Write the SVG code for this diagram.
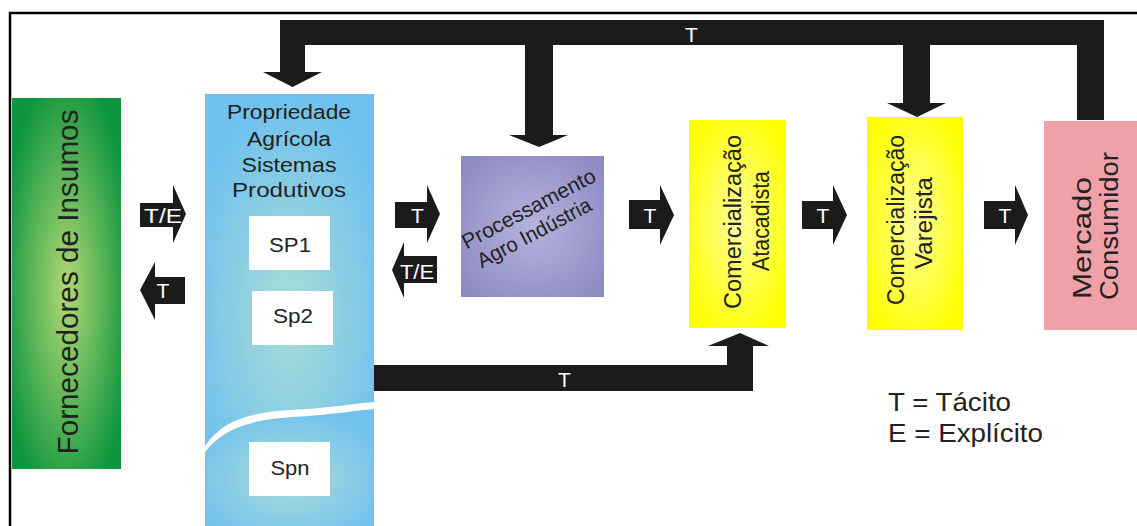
<svg xmlns="http://www.w3.org/2000/svg" width="1137" height="526" viewBox="0 0 1137 526">
<style>
.t{font-family:"Liberation Sans",Arial,sans-serif;fill:#222}
.w{font-family:"Liberation Sans",Arial,sans-serif;fill:#fff;font-size:21px;text-anchor:middle}
.blk{fill:#1b1b1b}
.sub{fill:#fff}
</style>
<defs>
<radialGradient id="gGreen" cx="0.5" cy="0.52" r="0.6">
<stop offset="0" stop-color="#b2d874"/><stop offset="1" stop-color="#0e963f"/>
</radialGradient>
<radialGradient id="gBlue" cx="0.5" cy="0.62" r="0.6">
<stop offset="0" stop-color="#aadcd6"/><stop offset="1" stop-color="#70c2ee"/>
</radialGradient>
<radialGradient id="gBlue2" cx="0.5" cy="0.6" r="0.6">
<stop offset="0" stop-color="#aadcd6"/><stop offset="1" stop-color="#72c2ee"/>
</radialGradient>
<radialGradient id="gPurple" cx="0.5" cy="0.5" r="0.65">
<stop offset="0" stop-color="#b6b2dc"/><stop offset="1" stop-color="#8e8ac2"/>
</radialGradient>
<radialGradient id="gYellow" cx="0.5" cy="0.5" r="0.6">
<stop offset="0" stop-color="#ffff9a"/><stop offset="1" stop-color="#ffff00"/>
</radialGradient>
</defs>
<rect width="1137" height="526" fill="#fff"/>
<path d="M10,526 V13 H1137" fill="none" stroke="#000" stroke-width="2.5"/>

<g id="connectors">
<path class="blk" d="M280,20 H1104 V120 H1077 V45 H930 V103 H946 L917,117 L887,103 H903 V45 H553 V135 H568 L539,147 L509,135 H525 V45 H305 V72 H322 L292.5,87 L263,72 H280 Z"/>
<text class="w" x="691.5" y="42">T</text>
<path class="blk" d="M374,365 H727 V346 H708 L740,333 L769,346 H753 V391 H374 Z"/>
<text class="w" x="564.5" y="387">T</text>
<path class="blk" d="M140,203 H173 V185 L186,214 L173,243 V227 H140 Z"/>
<text class="w" x="163" y="223" textLength="38" lengthAdjust="spacingAndGlyphs">T/E</text>
<path class="blk" d="M185,277 H155 V262 L140,290 L155,320 V304 H185 Z"/>
<text class="w" x="163" y="298">T</text>
<path class="blk" d="M395,202 H427 V185 L440,214 L427,243 V228 H395 Z"/>
<text class="w" x="417.5" y="223">T</text>
<path class="blk" d="M437,256 H404 V242 L392,270 L404,298 V283 H437 Z"/>
<text class="w" x="417" y="279" textLength="34" lengthAdjust="spacingAndGlyphs">T/E</text>
<path class="blk" d="M629,200 H660 V185 L674,215 L660,245 V229 H629 Z"/>
<text class="w" x="650" y="223">T</text>
<path class="blk" d="M802,201 H833 V185 L847,215 L833,245 V229 H802 Z"/>
<text class="w" x="823" y="223">T</text>
<path class="blk" d="M984,201 H1015 V185 L1028,215 L1015,245 V229 H984 Z"/>
<text class="w" x="1005" y="223">T</text>
</g>

<g id="fornecedores">
<rect x="12" y="98" width="109" height="371" fill="url(#gGreen)"/>
<text class="t" transform="translate(78,282) rotate(-90)" font-size="29.5" text-anchor="middle" textLength="345" lengthAdjust="spacingAndGlyphs">Fornecedores de Insumos</text>
</g>

<g id="propriedade">
<path d="M205,94 H374 V402 C350,404 330,408 290,410 C245,413 222,422 205,446 Z" fill="url(#gBlue)"/>
<path d="M205,452 C222,430 248,420 292,417 C330,415 352,411 374,409 V526 H205 Z" fill="url(#gBlue2)"/>
<g font-size="20.5" text-anchor="middle">
<text class="t" x="289" y="119" textLength="124" lengthAdjust="spacingAndGlyphs">Propriedade</text>
<text class="t" x="289" y="146" textLength="84" lengthAdjust="spacingAndGlyphs">Agrícola</text>
<text class="t" x="289" y="172" textLength="95" lengthAdjust="spacingAndGlyphs">Sistemas</text>
<text class="t" x="289" y="197" textLength="114" lengthAdjust="spacingAndGlyphs">Produtivos</text>
</g>
</g>

<g id="sp1">
<rect class="sub" x="249" y="216" width="81" height="54"/>
<text class="t" x="290" y="252" font-size="21" text-anchor="middle" textLength="42" lengthAdjust="spacingAndGlyphs">SP1</text>
</g>
<g id="sp2">
<rect class="sub" x="252" y="291" width="81" height="54"/>
<text class="t" x="293" y="323" font-size="21" text-anchor="middle" textLength="40" lengthAdjust="spacingAndGlyphs">Sp2</text>
</g>
<g id="spn">
<rect class="sub" x="249" y="442" width="81" height="54"/>
<text class="t" x="290" y="475" font-size="21" text-anchor="middle" textLength="39" lengthAdjust="spacingAndGlyphs">Spn</text>
</g>

<g id="processamento">
<rect x="461" y="156" width="143" height="141" fill="url(#gPurple)"/>
<text class="t" transform="translate(532,215) rotate(-27.8)" font-size="21" text-anchor="middle" textLength="148" lengthAdjust="spacingAndGlyphs">Processamento</text>
<text class="t" transform="translate(537.5,239) rotate(-27.8)" font-size="21" text-anchor="middle" textLength="126" lengthAdjust="spacingAndGlyphs">Agro Indústria</text>
</g>

<g id="atacadista">
<rect x="689" y="120" width="97" height="208" fill="url(#gYellow)"/>
<text class="t" transform="translate(741,222) rotate(-90)" font-size="23.5" text-anchor="middle" textLength="174" lengthAdjust="spacingAndGlyphs">Comercialização</text>
<text class="t" transform="translate(769,221) rotate(-90)" font-size="23.5" text-anchor="middle" textLength="100" lengthAdjust="spacingAndGlyphs">Atacadista</text>
</g>

<g id="varejista">
<rect x="867" y="117" width="96" height="213" fill="url(#gYellow)"/>
<text class="t" transform="translate(904,220) rotate(-90)" font-size="23.5" text-anchor="middle" textLength="170" lengthAdjust="spacingAndGlyphs">Comercialização</text>
<text class="t" transform="translate(932,223) rotate(-90)" font-size="23.5" text-anchor="middle" textLength="92" lengthAdjust="spacingAndGlyphs">Varejista</text>
</g>

<g id="mercado">
<rect x="1044" y="121" width="93" height="209" fill="#f0a0a8"/>
<text class="t" transform="translate(1091,299) rotate(-90)" font-size="26.5" textLength="122" lengthAdjust="spacingAndGlyphs">Mercado</text>
<text class="t" transform="translate(1118,300) rotate(-90)" font-size="26.5" textLength="148" lengthAdjust="spacingAndGlyphs">Consumidor</text>
</g>

<g id="legenda">
<text class="t" x="888" y="411" font-size="26" textLength="123" lengthAdjust="spacingAndGlyphs">T = Tácito</text>
<text class="t" x="888" y="442" font-size="26" textLength="155" lengthAdjust="spacingAndGlyphs">E = Explícito</text>
</g>
</svg>
